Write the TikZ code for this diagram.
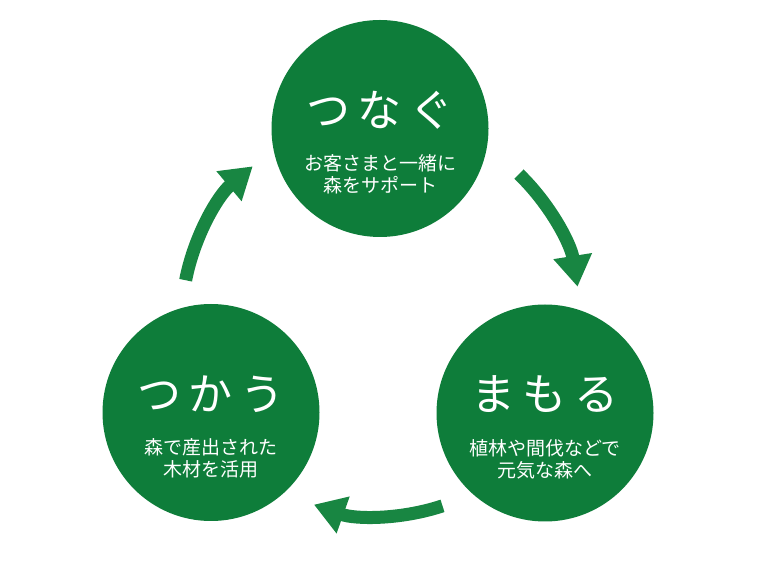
\documentclass[tikz,border=0pt]{standalone}
\usepackage{fontspec}
\setmainfont{Noto Sans CJK JP}
\newfontfamily\jpfont{Noto Sans CJK JP}
\newfontfamily\titlefont[LetterSpace=18]{Noto Sans CJK JP}
\usetikzlibrary{arrows.meta,calc}
\definecolor{circgreen}{RGB}{14,125,58}
\definecolor{arrgreen}{RGB}{24,134,66}
\tikzset{
  circ/.style={circle, fill=circgreen, minimum size=217pt, inner sep=0pt},
  ttl/.style={text=white, font=\titlefont\fontsize{44}{50}\selectfont, inner sep=0pt},
  sub/.style={text=white, font=\jpfont\fontsize{19}{22}\selectfont, align=center, inner sep=0pt},
  arr/.style={draw=arrgreen, line width=13pt, -{Triangle[width=37pt,length=31pt]}}
}
\begin{document}
\begin{tikzpicture}[x=1pt,y=1pt]
\path[use as bounding box] (0,0) rectangle (760,570);
\fill[white] (0,0) rectangle (760,570);
\coordinate (O) at (380,252);
% circles
\node[circ] (top) at (380,441.5) {};
\node[circ] (left) at (211,157.5) {};
\node[circ] (right) at (545,157) {};
% texts
\node[ttl] (topt) at ($(top)+(0,18.5)$) {つなぐ\hspace{-0.18em}};
\node[sub] (tops) at ($(top)+(0,-45.5)$) {お客さまと一緒に\\森をサポート};
\node[ttl] (leftt) at ($(left)+(0,18.5)$) {つかう\hspace{-0.18em}};
\node[sub] (lefts) at ($(left)+(0,-46)$) {森で産出された\\木材を活用};
\node[ttl] (rightt) at ($(right)+(0,18.5)$) {まもる\hspace{-0.18em}};
\node[sub] (rights) at ($(right)+(0,-46)$) {植林や間伐などで\\元気な森へ};
% arrows
\coordinate (a1) at ($(O)+(169:198)$);
\coordinate (a2) at ($(O)+(46:200)$);
\coordinate (a3) at ($(O)+(-71.6:198)$);
\draw[arr] (a1) arc[start angle=169, end angle=130, radius=198];
\draw[arr] (a2) arc[start angle=46, end angle=9, radius=200];
\draw[arr] (a3) arc[start angle=-71.6, end angle=-109.5, radius=198];
\end{tikzpicture}
\end{document}
